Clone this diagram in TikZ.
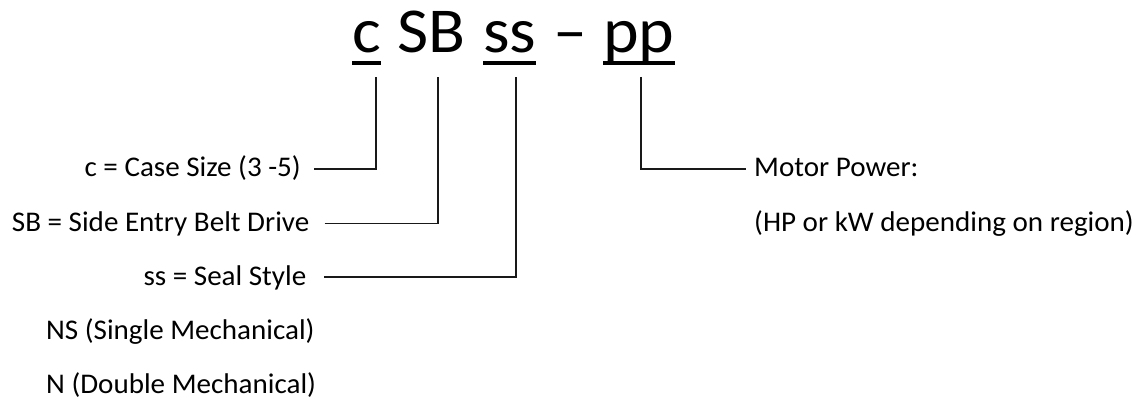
\documentclass[tikz,border=0pt]{standalone}
\usepackage{fontspec}
\setmainfont{Carlito}[FakeStretch=1.02]
\newfontfamily\titlefont{Carlito}[FakeStretch=1.06]
\begin{document}
\begin{tikzpicture}[x=1pt,y=-1pt,
  ttl/.style={font=\titlefont\fontsize{64}{72}\selectfont, inner sep=0pt, anchor=base west},
  lbl/.style={font=\fontsize{28.5}{34}\selectfont, inner sep=0pt},
  conn/.style={line width=1.6pt, draw=black!90},
  uline/.style={line width=4pt}]
\useasboundingbox (0,0) rectangle (1148,406);
% title
\node[ttl] (tc) at (352,53) {c};
\node[ttl] (tsb) at (397,53) {SB};
\node[ttl] (tss) at (483,53) {ss};
\node[ttl] (tdash) at (553,53) {–};
\node[ttl] (tpp) at (603,53) {pp};
\draw[uline] ([yshift=-10pt]tc.base west) -- ([yshift=-10pt]tc.base east);
\draw[uline] ([yshift=-10pt]tss.base west) -- ([yshift=-10pt]tss.base east);
\draw[uline] ([yshift=-10pt]tpp.base west) -- ([yshift=-10pt]tpp.base east);
% connector tops
\coordinate (kc) at (376,77);
\coordinate (ksb) at (438,77);
\coordinate (kss) at (516,77);
\coordinate (kpp) at (641,77);
% labels
\node[lbl, anchor=base east] (lc) at (301,177) {c = Case Size (3 -5)};
\node[lbl, anchor=base east] (lsb) at (309.5,231) {SB = Side Entry Belt Drive};
\node[lbl, anchor=base east] (lss) at (306.5,285) {ss = Seal Style};
\node[lbl, anchor=base west] (lns) at (46,339) {NS (Single Mechanical)};
\node[lbl, anchor=base west] (ln) at (46,393) {N (Double Mechanical)};
\node[lbl, anchor=base west] (lmp) at (754,177) {Motor Power:};
\node[lbl, anchor=base west] (lhp) at (754,231) {(HP or kW depending on region)};
% connectors
\draw[conn] ([shift={(13pt,8pt)}]lc.base east) -| (kc);
\draw[conn] ([shift={(15pt,7.5pt)}]lsb.base east) -| (ksb);
\draw[conn] ([shift={(17.5pt,8pt)}]lss.base east) -| (kss);
\draw[conn] (kpp) |- ([shift={(-8pt,8pt)}]lmp.base west);
\end{tikzpicture}
\end{document}
